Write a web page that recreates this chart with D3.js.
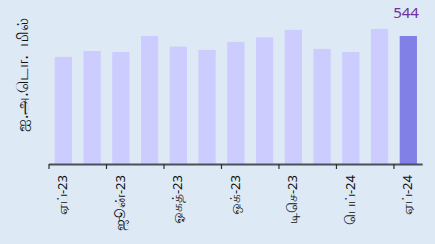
<!DOCTYPE html>
<html><head><meta charset="utf-8">
<script src="https://cdn.jsdelivr.net/npm/d3@7"></script>
<style>
html,body{margin:0;padding:0;background:#dde9f5;}
svg{display:block;font-family:"Noto Sans","DejaVu Sans",sans-serif;}
</style></head>
<body>
<svg id="c" width="435" height="244"></svg>
<script>
const categories = ["ஏப்-23","மே-23","ஜூன்-23","ஜூலை-23","ஓகத்-23","செப்-23","ஒக்-23","நவ-23","டிசெ-23","ஜன-24","பெப்-24","மார்-24","ஏப்-24"];
const values = [455, 480, 476, 544, 499, 485, 519, 538, 570, 489, 476, 574, 544];
const tickLabels = ["ஏப்-23","ஜூன்-23","ஓகத்-23","ஒக்-23","டிசெ-23","பெப்-24","ஏப்-24"];
const yTitle = "ஐ.அ.டொ.  மில்";
const lastLabel = "544";

const svg = d3.select("#c");
const W = 435, H = 244;
const x0 = 49, x1 = 422.7, yBase = 164;
const x = d3.scaleBand().domain(categories).range([x0, x1]).paddingInner(0.4).paddingOuter(0.2);
const y = d3.scaleLinear().domain([0, 544]).range([yBase, 36]);

svg.append("rect").attr("width", W).attr("height", H).attr("fill", "#dde9f5");

svg.selectAll("rect.bar").data(values).join("rect")
  .attr("class", "bar")
  .attr("x", (d, i) => x(categories[i]))
  .attr("width", x.bandwidth())
  .attr("y", d => y(d))
  .attr("height", d => yBase - y(d))
  .attr("fill", (d, i) => i === values.length - 1 ? "#8080e6" : "#ccccff");

svg.append("line").attr("x1", x0).attr("x2", x1).attr("y1", yBase + 0.5).attr("y2", yBase + 0.5)
  .attr("stroke", "#4a4f5a").attr("stroke-width", 2);

const step = x.step();
const tickCats = categories.filter((c, i) => i % 2 === 0);
svg.selectAll("line.tick").data(tickCats).join("line")
  .attr("class", "tick")
  .attr("x1", c => x(c) - x.paddingOuter() * step)
  .attr("x2", c => x(c) - x.paddingOuter() * step)
  .attr("y1", yBase).attr("y2", yBase + 5)
  .attr("stroke", "#2b2f36").attr("stroke-width", 1.2);

const xl = svg.selectAll("text.xl").data(tickCats).join("text")
  .attr("class", "xl")
  .attr("transform", c => `translate(${x(c) + x.bandwidth() / 2 + 4},175) rotate(-90)`)
  .attr("text-anchor", "end")
  .attr("fill", "#111");
xl.each(function(c, i) {
  const parts = tickLabels[i].split("-");
  const t = d3.select(this);
  t.append("tspan").attr("font-size", 14).text(parts[0]);
  t.append("tspan").attr("font-size", 13).text("-" + parts[1]);
});

svg.append("text")
  .attr("transform", "translate(28,75) rotate(-90)")
  .attr("text-anchor", "middle")
  .attr("font-size", 16)
  .attr("fill", "#111")
  .style("white-space", "pre")
  .text(yTitle);

const lastCat = categories[categories.length - 1];
svg.append("text")
  .attr("x", x(lastCat) + x.bandwidth() + 2)
  .attr("y", 18)
  .attr("text-anchor", "end")
  .attr("font-size", 15)
  .attr("fill", "#7030a0")
  .text(lastLabel);
</script>
</body></html>
